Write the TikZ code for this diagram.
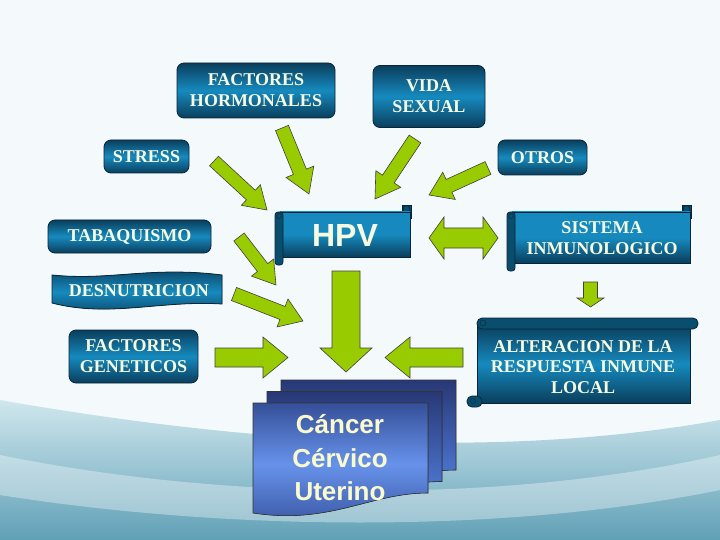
\documentclass[tikz,border=0pt]{standalone}
\usepackage{fontspec}
\setmainfont{Liberation Serif}
\newfontfamily\timesfont{Liberation Serif}
\newfontfamily\arialfont{Liberation Sans}
\usetikzlibrary{calc,positioning}

\definecolor{boxdark}{RGB}{10,62,92}
\definecolor{boxmid}{RGB}{22,138,190}
\definecolor{rolldark}{RGB}{10,78,110}
\definecolor{edgeblue}{RGB}{8,38,58}
\definecolor{cream}{RGB}{246,250,224}
\definecolor{arrowgreen}{RGB}{153,204,0}
\definecolor{docdark}{RGB}{40,56,118}
\definecolor{doclight}{RGB}{86,134,232}
\definecolor{bgwhite}{RGB}{244,250,252}
\definecolor{bglight}{RGB}{208,231,238}
\definecolor{bgteal}{RGB}{96,160,182}

\tikzset{
  tbox/.style={draw=edgeblue, line width=0.8pt, rounded corners=7pt,
    top color=boxdark, bottom color=boxdark, middle color=boxmid,
    text=cream, align=center, inner sep=0pt,
    font=\timesfont\fontsize{18}{21}\selectfont\bfseries},
  lbl/.style={text=cream, align=center, inner sep=0pt,
    font=\timesfont\fontsize{18}{20.5}\selectfont\bfseries},
  scrollbody/.style={draw=edgeblue, line width=0.8pt,
    top color=boxmid, bottom color=boxdark, middle color=boxmid},
  darkbody/.style={draw=edgeblue, line width=0.8pt,
    top color=boxdark, bottom color=boxdark, middle color=boxmid},
  roll/.style={draw=edgeblue, line width=0.8pt, fill=rolldark},
  greenarrow/.style={draw=black!75, line width=0.6pt, fill=arrowgreen},
  docpage/.style={draw=black!80, line width=0.6pt, top color=docdark, bottom color=doclight},
  frontpage/.style={draw=black!80, line width=0.6pt, top color=docdark!70!doclight,
    bottom color=docdark!60!doclight, middle color=doclight!90!white}
}

% fat arrow: tail, tip, half shaft, half head, head length
\newcommand\fatarrow[5]{%
  \coordinate (fah) at ($(#2)!#5!(#1)$);
  \filldraw[greenarrow] ($(#1)!#3!90:(#2)$) -- ($(fah)!#3!90:(#2)$)
    -- ($(fah)!#4!90:(#2)$) -- (#2) -- ($(fah)!#4!-90:(#2)$)
    -- ($(fah)!#3!-90:(#2)$) -- ($(#1)!#3!-90:(#2)$) -- cycle;}

% horizontal scroll: x0, y0, x1, y1 of the body
\newcommand\hscroll[4]{%
  \filldraw[roll] (#3-8,#2-7) rectangle (#3+1,#2+6);
  \filldraw[roll] (#3-3.5,#2-3) circle (3.5pt);
  \filldraw[scrollbody] (#1,#2) rectangle (#3,#4);
  \filldraw[roll, rounded corners=3pt] (#1-5,#2) rectangle (#1+3,#4+8);
  \draw[edgeblue] (#1-1,#2+4) circle (2.5pt);}

% stacked page with a wavy foot
\newcommand\docpage[3]{%
  \filldraw[#3] (#1,#2) -- (#1+175,#2) -- (#1+175,#2+90)
    .. controls (#1+117,#2+90) and (#1+77,#2+122) .. (#1,#2+110) -- cycle;}

\begin{document}
\begin{tikzpicture}[x=1pt,y=-1pt]
  \useasboundingbox (0,0) rectangle (720,540);
  % Draw background
  \fill[bgwhite] (0,0) rectangle (720,540);
  \shade[top color=bglight, bottom color=bgteal]
    (0,400) .. controls (200,435) and (470,465) .. (720,420) -- (720,540) -- (0,540) -- cycle;
  \fill[white, opacity=0.35]
    (0,455) .. controls (220,500) and (500,505) .. (720,455) -- (720,490)
    .. controls (500,535) and (220,530) .. (0,495) -- cycle;

  % Draw rounded boxes
  \node[tbox, minimum width=158, minimum height=55] (hormonal) at (256,90.5) {FACTORES\\HORMONALES};
  \node[tbox, minimum width=112, minimum height=62] (vida) at (429,96.5) {VIDA\\SEXUAL};
  \node[tbox, minimum width=85, minimum height=33] (stress) at (146.5,156.5) {STRESS};
  \node[tbox, minimum width=89, minimum height=35] (otros) at (542.5,157.5) {OTROS};
  \node[tbox, minimum width=163, minimum height=33] (tabaco) at (129.5,236.5) {TABAQUISMO};
  \node[tbox, minimum width=129, minimum height=53] (genetic) at (133.5,356.5) {FACTORES\\GENETICOS};

  % Draw wave banner
  \filldraw[darkbody]
    (52,275) .. controls (110,281) and (150,266) .. (222,275) -- (222,304)
    .. controls (160,300) and (110,318) .. (52,303) -- cycle;
  \node[lbl] (desnut) at (139,291) {DESNUTRICION};

  % Draw scrolls
  \hscroll{280}{212}{410}{257}
  \node[lbl, font=\arialfont\fontsize{32}{32}\selectfont\bfseries] (hpv) at (345,235) {HPV};
  \hscroll{512}{212}{690}{263}
  \node[lbl] (sistema) at (602,238) {SISTEMA\\INMUNOLOGICO};
  \filldraw[darkbody] (477,325) rectangle (690,403);
  \filldraw[roll, rounded corners=5pt] (477,318) rectangle (698,329);
  \draw[edgeblue] (483,323) circle (3pt);
  \filldraw[roll, rounded corners=5pt] (467,396) rectangle (482,407);
  \draw[edgeblue] (473,401) circle (2.5pt);
  \node[lbl] (alteracion) at (583,367) {ALTERACION DE LA\\RESPUESTA INMUNE\\LOCAL};

  % Draw stacked pages
  \docpage{281}{380}{docpage}
  \docpage{267}{391.5}{docpage}
  \docpage{253}{403}{frontpage}
  \node[align=center, inner sep=0pt, text={rgb,255:red,250;green,250;blue,205},
    font=\arialfont\fontsize{26}{33.5}\selectfont\bfseries] (cancer) at (340,458) {Cáncer\\Cérvico\\Uterino};

  % Draw green arrows
  \coordinate (a1) at (214,161);   \coordinate (b1) at (267,210);
  \coordinate (a2) at (282,128);   \coordinate (b2) at (309,194);
  \coordinate (a3) at (415,139);   \coordinate (b3) at (375,199);
  \coordinate (a4) at (488,168);   \coordinate (b4) at (429,195);
  \coordinate (a5) at (239,237);   \coordinate (b5) at (276,285);
  \coordinate (a6) at (234,294);   \coordinate (b6) at (303,321);
  \coordinate (a7) at (215,357.5); \coordinate (b7) at (288,357.5);
  \coordinate (a8) at (346,271);   \coordinate (b8) at (346,372);
  \coordinate (a9) at (463,357.5); \coordinate (b9) at (385,357.5);
  \coordinate (a10) at (590.5,282); \coordinate (b10) at (590.5,307);
  \fatarrow{a1}{b1}{6.5pt}{14pt}{22pt}
  \fatarrow{a2}{b2}{7pt}{15pt}{24pt}
  \fatarrow{a3}{b3}{7pt}{15pt}{24pt}
  \fatarrow{a4}{b4}{7pt}{15pt}{22pt}
  \fatarrow{a5}{b5}{6.5pt}{14pt}{22pt}
  \fatarrow{a6}{b6}{7pt}{15pt}{22pt}
  \fatarrow{a7}{b7}{9.5pt}{20.5pt}{25pt}
  \fatarrow{a8}{b8}{14pt}{26pt}{24pt}
  \fatarrow{a9}{b9}{9.5pt}{20.5pt}{25pt}
  \fatarrow{a10}{b10}{7pt}{13.5pt}{9pt}

  % Draw double arrow between HPV and immune system
  \coordinate (dl) at (429,238);
  \coordinate (dr) at (498,238);
  \filldraw[greenarrow] (dl) -- ($(dl)+(15,-21)$) -- ($(dl)+(15,-10)$) -- ($(dr)+(-15,-10)$)
    -- ($(dr)+(-15,-21)$) -- (dr) -- ($(dr)+(-15,21)$) -- ($(dr)+(-15,10)$)
    -- ($(dl)+(15,10)$) -- ($(dl)+(15,21)$) -- cycle;
\end{tikzpicture}
\end{document}
